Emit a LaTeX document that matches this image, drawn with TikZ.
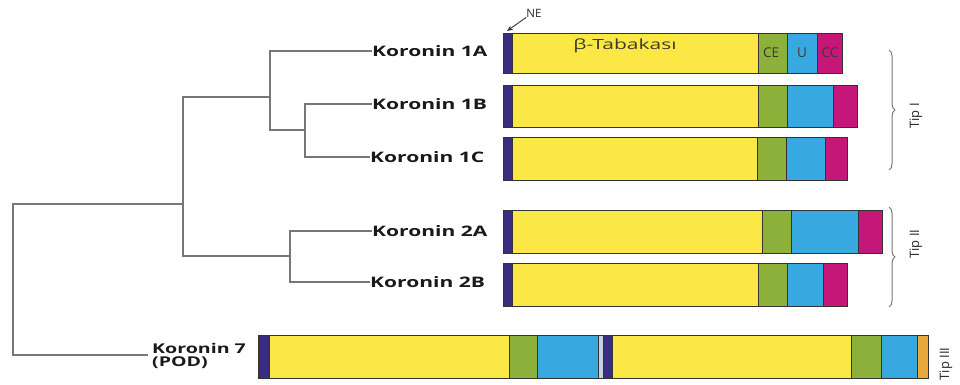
\documentclass[tikz,border=0pt]{standalone}
\usepackage{fontspec}
\setmainfont{Open Sans}
\newfontfamily\lblfont[FakeStretch=1.45]{Open Sans}
\newfontfamily\segfont[FakeStretch=1.5]{Open Sans}
\usetikzlibrary{decorations.pathreplacing,arrows.meta}
\definecolor{cnavy}{HTML}{3B2C82}
\definecolor{cyel}{HTML}{FBE846}
\definecolor{cgrn}{HTML}{8CB03A}
\definecolor{cblu}{HTML}{38A8E0}
\definecolor{cmag}{HTML}{C5177A}
\definecolor{corg}{HTML}{E8A93A}
\definecolor{clight}{HTML}{C4D2E4}
\definecolor{ctree}{HTML}{777777}
\definecolor{ctxt}{HTML}{3E3A2C}
\newcommand\dombar[3]{\foreach \xa/\xb/\cc in {#3}{\draw[segline,fill=\cc] (\xa,#1) rectangle (\xb,#2);}}
\begin{document}
\begin{tikzpicture}[x=1pt,y=-1pt,
  treeline/.style={draw=ctree,line width=1.8pt},
  segline/.style={draw=black!80,line width=0.9pt},
  leaf/.style={anchor=west,inner sep=0pt,font=\lblfont\bfseries\fontsize{14.5}{15}\selectfont,text=black!90},
  seglabel/.style={inner sep=0pt,font=\segfont\fontsize{14}{14}\selectfont,text=ctxt},
  smallseg/.style={inner sep=0pt,font=\fontsize{13.5}{13.5}\selectfont,text=ctxt},
  tiplabel/.style={rotate=90,inner sep=0pt,font=\fontsize{13}{13}\selectfont,text=black!85},
  bracestyle/.style={draw=ctree,line width=1pt,decorate,decoration={brace,amplitude=6pt}}]
\useasboundingbox (0,0) rectangle (960,385);

% leaf labels
\node[leaf] (L1A) at (372,51) {Koronin 1A};
\node[leaf] (L1B) at (372,104) {Koronin 1B};
\node[leaf] (L1C) at (370,157) {Koronin 1C};
\node[leaf] (L2A) at (372,231) {Koronin 2A};
\node[leaf] (L2B) at (370,282) {Koronin 2B};
\node[leaf,align=left,font=\lblfont\bfseries\fontsize{13.5}{13}\selectfont] (L7) at (152,356) {Koronin 7\\(POD)};

% internal tree nodes
\coordinate (p0) at (13,280);
\coordinate (p1) at (183,204);
\coordinate (p2) at (270,97);
\coordinate (p3) at (305,130);
\coordinate (p4) at (290,256);
\coordinate (e7) at (148,355);

\draw[treeline] (p0) |- (p1);
\draw[treeline] (p0) |- (e7);
\draw[treeline] (p1) |- (p2);
\draw[treeline] (p1) |- (p4);
\draw[treeline,line width=2.8pt] (p2) |- (L1A.west);
\draw[treeline] (p2) |- (p3);
\draw[treeline] (p3) |- (L1B.west);
\draw[treeline] (p3) |- (L1C.west);
\draw[treeline] (p4) |- (L2A.west);
\draw[treeline] (p4) |- (L2B.west);

% domain bars
\dombar{33}{73}{503/512/cnavy,512/758/cyel,758/787/cgrn,787/817/cblu,817/842/cmag}
\dombar{85}{127}{503/512/cnavy,512/758/cyel,758/787/cgrn,787/833/cblu,833/857/cmag}
\dombar{137}{180}{503/512/cnavy,512/757/cyel,757/786/cgrn,786/825/cblu,825/847/cmag}
\dombar{210}{253}{503/512/cnavy,512/762/cyel,762/791/cgrn,791/858/cblu,858/882/cmag}
\dombar{263}{306}{503/512/cnavy,512/758/cyel,758/787/cgrn,787/823/cblu,823/847/cmag}
\dombar{335}{378}{258/269/cnavy,269/509/cyel,509/537/cgrn,537/598/cblu,598/603/clight,603/612/cnavy,612/851/cyel,851/881/cgrn,881/917/cblu,917/928/corg}

% segment labels
\node[seglabel] (beta) at (625,46) {β-Tabakası};
\node[smallseg] (ce) at (771,53) {CE};
\node[smallseg] (u) at (802,53) {U};
\node[smallseg] (cc) at (830,53) {CC};

% NE marker
\node[inner sep=0pt,font=\fontsize{11.5}{11.5}\selectfont,text=black!85] (ne) at (534,13) {NE};
\coordinate (neTip) at (507,31);
\draw[-{Stealth[length=6pt,width=5pt]},line width=0.9pt,black!80] (ne.south west) -- (neTip);

% braces and type labels
\coordinate (b1t) at (889,50);
\coordinate (b1b) at (889,170);
\coordinate (b2t) at (889,207);
\coordinate (b2b) at (889,307);
\draw[bracestyle] (b1t) -- (b1b);
\draw[bracestyle] (b2t) -- (b2b);
\node[tiplabel] (t1) at (916,116) {Tip I};
\node[tiplabel] (t2) at (916,244) {Tip II};
\node[tiplabel] (t3) at (946,364) {Tip III};
\end{tikzpicture}
\end{document}
